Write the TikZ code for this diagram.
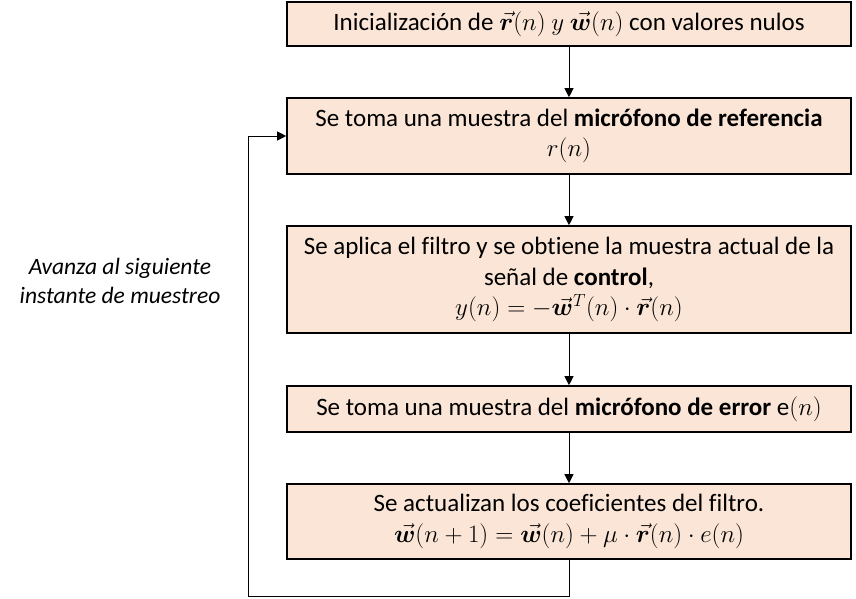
\documentclass[tikz,border=0pt]{standalone}
\usepackage{fix-cm}
\usepackage{amsmath,bm}
\usepackage{fontspec}
\setmainfont[Ligatures=NoCommon]{Carlito}
\usetikzlibrary{arrows.meta}
\definecolor{peach}{HTML}{FBE5D6}
\begin{document}
\begin{tikzpicture}[x=1pt,y=-1pt,
  flowbox/.style={draw, line width=1.6pt, fill=peach, minimum width=564pt, align=center, inner sep=0pt, font=\fontsize{25}{30.5}\selectfont},
  link/.style={line width=0.9pt, -{Triangle[length=9pt,width=9pt]}},
  note/.style={align=center, font=\fontsize{23.5}{29}\selectfont\itshape}]
\useasboundingbox (0,0) rectangle (856,598);
\node[flowbox, minimum height=44pt] (b1) at (569,24) {Inicialización de $\vec{\bm r}(n)$ $y$ $\vec{\bm w}(n)$ con valores nulos};
\node[flowbox, minimum height=76pt] (b2) at (569,136) {Se toma una muestra del \textbf{micrófono de referencia}\\ $r(n)$};
\node[flowbox, minimum height=107pt] (b3) at (569,279.5) {Se aplica el filtro y se obtiene la muestra actual de la\\ señal de \textbf{control},\\ $y(n) = -\vec{\bm w}^{T}(n)\cdot\vec{\bm r}(n)$};
\node[flowbox, minimum height=46pt] (b4) at (569,409) {Se toma una muestra del \textbf{micrófono de error} e$(n)$};
\node[flowbox, minimum height=75pt] (b5) at (569,521.5) {Se actualizan los coeficientes del filtro.\\ $\vec{\bm w}(n+1) = \vec{\bm w}(n) + \mu\cdot\vec{\bm r}(n)\cdot e(n)$};
\node[note] (lbl) at (120,281) {Avanza al siguiente\\ instante de muestreo};
\coordinate (c1) at (569,596);
\coordinate (c2) at (248,596);
\coordinate (c3) at (248,136);
\draw[link] (b1) -- (b2);
\draw[link] (b2) -- (b3);
\draw[link] (b3) -- (b4);
\draw[link] (b4) -- (b5);
\draw[link] (b5.south) -- (c1) -- (c2) -- (c3) -- (b2.west);
\end{tikzpicture}
\end{document}
